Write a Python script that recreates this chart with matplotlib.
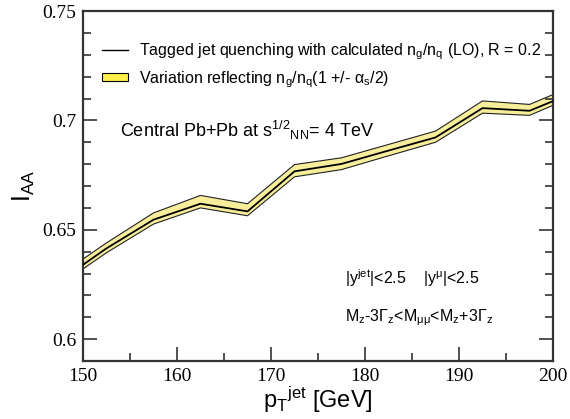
import matplotlib
matplotlib.use("Agg")
import matplotlib.pyplot as plt
from matplotlib.lines import Line2D
from matplotlib.patches import Patch
from matplotlib.ticker import MultipleLocator

plt.rcParams['font.family'] = ['Liberation Sans', 'DejaVu Sans']
plt.rcParams['mathtext.fontset'] = 'custom'
plt.rcParams['mathtext.rm'] = 'Liberation Sans'
plt.rcParams['mathtext.it'] = 'Liberation Sans'
plt.rcParams['mathtext.bf'] = 'Liberation Sans:bold'

# data
pt = [150, 152.5, 157.5, 162.5, 167.5, 172.5, 177.5, 182.5, 187.5, 192.5, 197.5, 200]
iaa = [0.6340, 0.6415, 0.6546, 0.6619, 0.6584, 0.6767, 0.6801, 0.6862, 0.6922, 0.7056, 0.7044, 0.7088]
iaa_up = [0.6366, 0.6440, 0.6577, 0.6657, 0.6619, 0.6798, 0.6829, 0.6890, 0.6951, 0.7089, 0.7073, 0.7118]
iaa_lo = [0.6321, 0.6395, 0.6526, 0.6600, 0.6564, 0.6742, 0.6775, 0.6838, 0.6900, 0.7033, 0.7023, 0.7069]
xticks = [150, 160, 170, 180, 190, 200]
yticks = [0.6, 0.65, 0.7, 0.75]
yticklabels = ['0.6', '0.65', '0.7', '0.75']

band_color = '#f7ee9c'

fig = plt.figure(figsize=(5.70, 4.19), dpi=100)
ax = fig.add_axes([0.1456, 0.1384, 0.8246, 0.8353])

ax.fill_between(pt, iaa_lo, iaa_up, facecolor=band_color, edgecolor='none', zorder=1)
ax.plot(pt, iaa_up, color='#222222', lw=0.8, zorder=2)
ax.plot(pt, iaa_lo, color='#222222', lw=0.8, zorder=2)
ax.plot(pt, iaa, color='black', lw=1.3, zorder=3)

ax.set_xlim(150, 200)
ax.set_ylim(0.59, 0.75)
ax.set_xticks(xticks)
ax.set_xticklabels([str(v) for v in xticks])
ax.set_yticks(yticks)
ax.set_yticklabels(yticklabels)
ax.xaxis.set_minor_locator(MultipleLocator(5))
ax.yaxis.set_minor_locator(MultipleLocator(0.01))
ax.tick_params(which='both', direction='in', top=False, right=True, width=1.2, color='#333333')
ax.tick_params(which='major', length=10)
ax.tick_params(which='minor', length=6)
ax.tick_params(axis='both', which='major', labelsize=14, pad=5)
for lab in ax.get_xticklabels() + ax.get_yticklabels():
    lab.set_fontfamily('Liberation Serif')
for s in ax.spines.values():
    s.set_linewidth(1.6)
    s.set_color('#333333')

ax.set_xlabel(r'$\mathregular{p_T{}^{jet}}$ [GeV]', fontsize=17, labelpad=0)
ax.set_ylabel(r'$\mathregular{I_{AA}}$', fontsize=18, labelpad=4)

handles = [Line2D([], [], color='black', lw=1.0),
           Patch(facecolor='#ffef4a', edgecolor='black', linewidth=0.8)]
labels = [r'Tagged jet quenching with calculated $\mathregular{n_g/n_q}$ (LO), R = 0.2',
          r'Variation reflecting $\mathregular{n_g/n_q(1}$ +/- $\mathregular{\alpha_s/2)}$']
leg = ax.legend(handles, labels, loc='upper left', bbox_to_anchor=(0.01, 0.955),
                frameon=False, fontsize=11.5, handlelength=1.6, handleheight=0.35,
                handletextpad=0.7, labelspacing=0.45)

ax.text(0.079, 0.66, r'Central Pb+Pb at $\mathregular{s^{1/2}{}_{NN}}$= 4 TeV',
        transform=ax.transAxes, fontsize=13, va='center', ha='left')
ax.text(0.557, 0.237, r'$\mathregular{|y^{jet}|}$<2.5    $\mathregular{|y^{\mu}|}$<2.5',
        transform=ax.transAxes, fontsize=11.5, va='center', ha='left')
ax.text(0.557, 0.123, r'M$\mathregular{_z}$-3$\mathregular{\Gamma_z}$<M$\mathregular{_{\mu\mu}}$<M$\mathregular{_z}$+3$\mathregular{\Gamma_z}$',
        transform=ax.transAxes, fontsize=11.5, va='center', ha='left')

fig.savefig('out.png', dpi=100)
